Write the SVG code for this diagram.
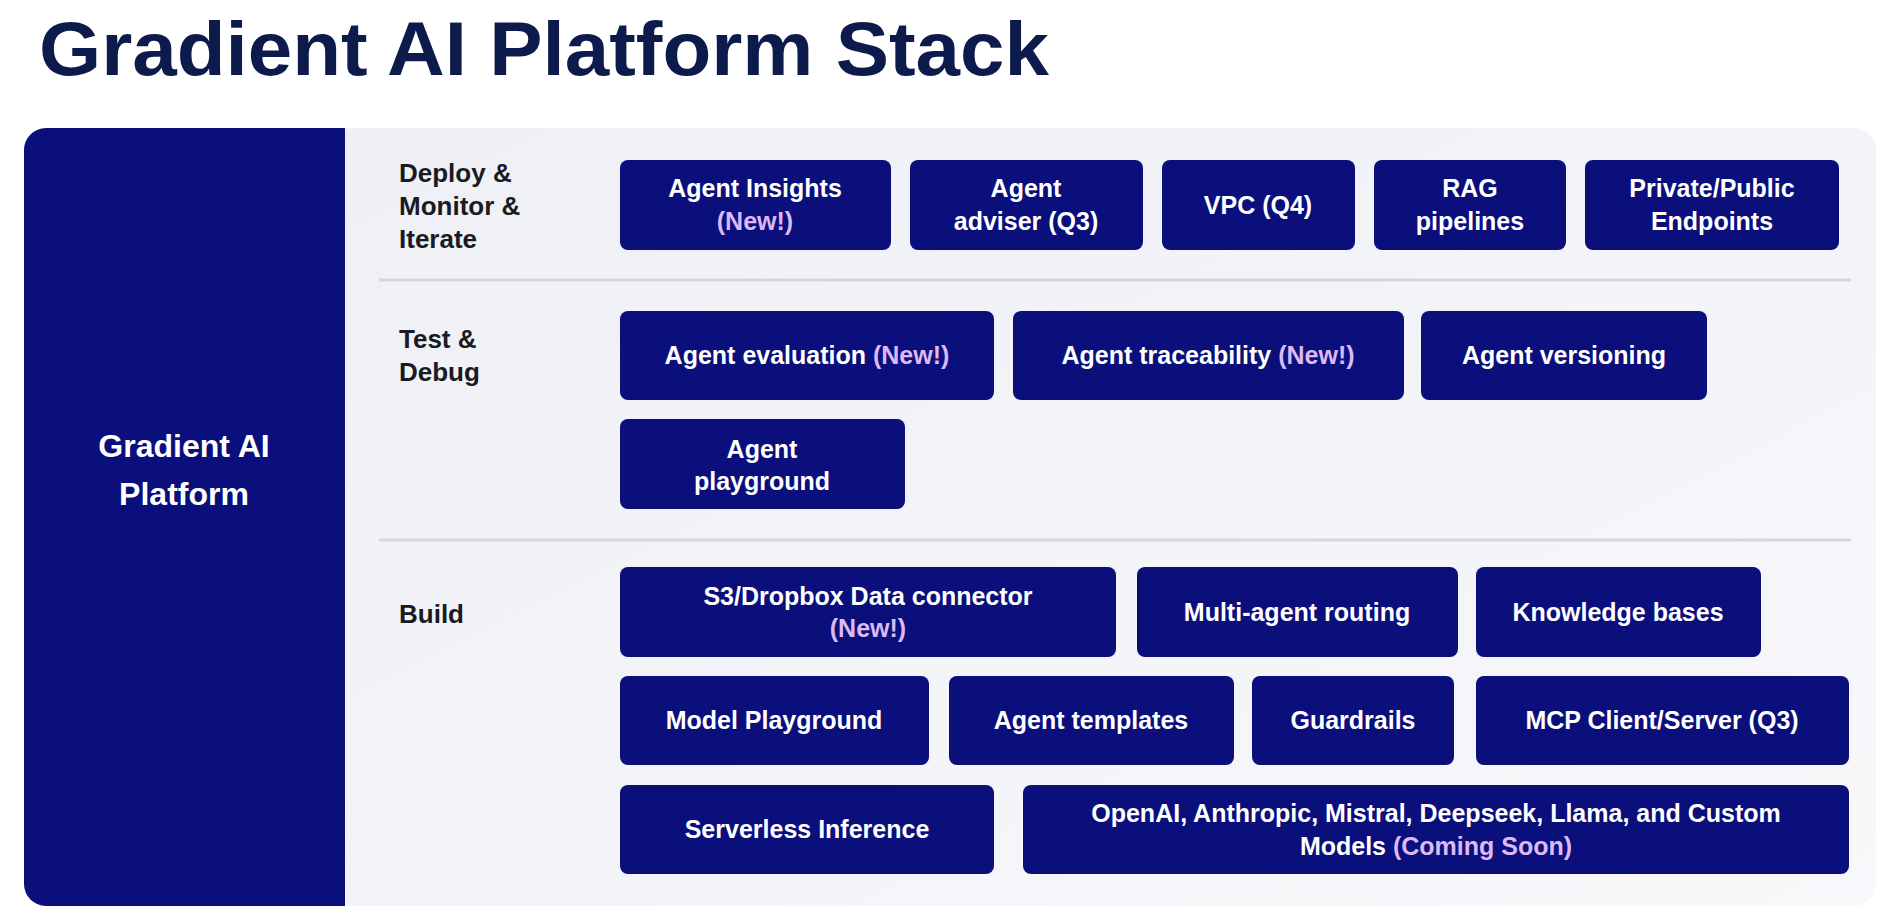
<svg xmlns="http://www.w3.org/2000/svg" width="1900" height="914" viewBox="0 0 1900 914">
<defs>
<linearGradient id="bg" x1="0" y1="0" x2="1" y2="1">
<stop offset="0" stop-color="#eef0f5"/><stop offset="1" stop-color="#f8f8fb"/>
</linearGradient>
<style>
.n{fill:#0a0f7c}
.t{font-family:"Liberation Sans",Arial,sans-serif;font-weight:bold;font-size:25px;fill:#fff;text-anchor:middle}
.new{fill:#dcb9f2}
.s{font-family:"Liberation Sans",Arial,sans-serif;font-size:26px;font-weight:bold;fill:#1a1a22}
.d{stroke:#d5d7dd;stroke-width:3}
</style>
</defs>
<rect width="1900" height="914" fill="#fff"/>
<text x="39" y="75" font-family="Liberation Sans,Arial,sans-serif" font-weight="bold" font-size="76" fill="#0d1a4c" textLength="1010" lengthAdjust="spacingAndGlyphs">Gradient AI Platform Stack</text>
<g id="panel">
<rect x="330" y="128" width="1546" height="778" rx="22" fill="url(#bg)"/>
<path d="M345 128H46a22 22 0 0 0-22 22V884a22 22 0 0 0 22 22H345Z" class="n"/>
<text x="184" y="457" class="t" style="font-size:32px">Gradient AI</text>
<text x="184" y="505" class="t" style="font-size:32px">Platform</text>
</g>
<g id="sections">
<text class="s"><tspan x="399" y="182">Deploy &amp;</tspan><tspan x="399" y="215">Monitor &amp;</tspan><tspan x="399" y="248">Iterate</tspan></text>
<text class="s"><tspan x="399" y="348">Test &amp;</tspan><tspan x="399" y="381">Debug</tspan></text>
<text class="s" x="399" y="623">Build</text>
<line class="d" x1="379" y1="280" x2="1851" y2="280"/>
<line class="d" x1="379" y1="540" x2="1851" y2="540"/>
</g>
<g id="n1"><rect class="n" x="620" y="160" width="271" height="90" rx="8"/><text class="t" x="755" y="197">Agent Insights</text><text class="t new" x="755" y="230">(New!)</text></g>
<g id="n2"><rect class="n" x="910" y="160" width="233" height="90" rx="8"/><text class="t" x="1026" y="197">Agent</text><text class="t" x="1026" y="230">adviser (Q3)</text></g>
<g id="n3"><rect class="n" x="1162" y="160" width="193" height="90" rx="8"/><text class="t" x="1258" y="214">VPC (Q4)</text></g>
<g id="n4"><rect class="n" x="1374" y="160" width="192" height="90" rx="8"/><text class="t" x="1470" y="197">RAG</text><text class="t" x="1470" y="230">pipelines</text></g>
<g id="n5"><rect class="n" x="1585" y="160" width="254" height="90" rx="8"/><text class="t" x="1712" y="197">Private/Public</text><text class="t" x="1712" y="230">Endpoints</text></g>
<g id="n6"><rect class="n" x="620" y="311" width="374" height="89" rx="8"/><text class="t" x="807" y="364">Agent evaluation <tspan class="new">(New!)</tspan></text></g>
<g id="n7"><rect class="n" x="1013" y="311" width="391" height="89" rx="8"/><text class="t" x="1208" y="364">Agent traceability <tspan class="new">(New!)</tspan></text></g>
<g id="n8"><rect class="n" x="1421" y="311" width="286" height="89" rx="8"/><text class="t" x="1564" y="364">Agent versioning</text></g>
<g id="n9"><rect class="n" x="620" y="419" width="285" height="90" rx="8"/><text class="t" x="762" y="458">Agent</text><text class="t" x="762" y="490">playground</text></g>
<g id="n10"><rect class="n" x="620" y="567" width="496" height="90" rx="8"/><text class="t" x="868" y="605">S3/Dropbox Data connector</text><text class="t new" x="868" y="637">(New!)</text></g>
<g id="n11"><rect class="n" x="1137" y="567" width="321" height="90" rx="8"/><text class="t" x="1297" y="621">Multi-agent routing</text></g>
<g id="n12"><rect class="n" x="1476" y="567" width="285" height="90" rx="8"/><text class="t" x="1618" y="621">Knowledge bases</text></g>
<g id="n13"><rect class="n" x="620" y="676" width="309" height="89" rx="8"/><text class="t" x="774" y="729">Model Playground</text></g>
<g id="n14"><rect class="n" x="949" y="676" width="285" height="89" rx="8"/><text class="t" x="1091" y="729">Agent templates</text></g>
<g id="n15"><rect class="n" x="1252" y="676" width="202" height="89" rx="8"/><text class="t" x="1353" y="729">Guardrails</text></g>
<g id="n16"><rect class="n" x="1476" y="676" width="373" height="89" rx="8"/><text class="t" x="1662" y="729">MCP Client/Server (Q3)</text></g>
<g id="n17"><rect class="n" x="620" y="785" width="374" height="89" rx="8"/><text class="t" x="807" y="838">Serverless Inference</text></g>
<g id="n18"><rect class="n" x="1023" y="785" width="826" height="89" rx="8"/><text class="t" x="1436" y="822">OpenAI, Anthropic, Mistral, Deepseek, Llama, and Custom</text><text class="t" x="1436" y="855">Models <tspan class="new">(Coming Soon)</tspan></text></g>
<g id="connectors"/>
</svg>
